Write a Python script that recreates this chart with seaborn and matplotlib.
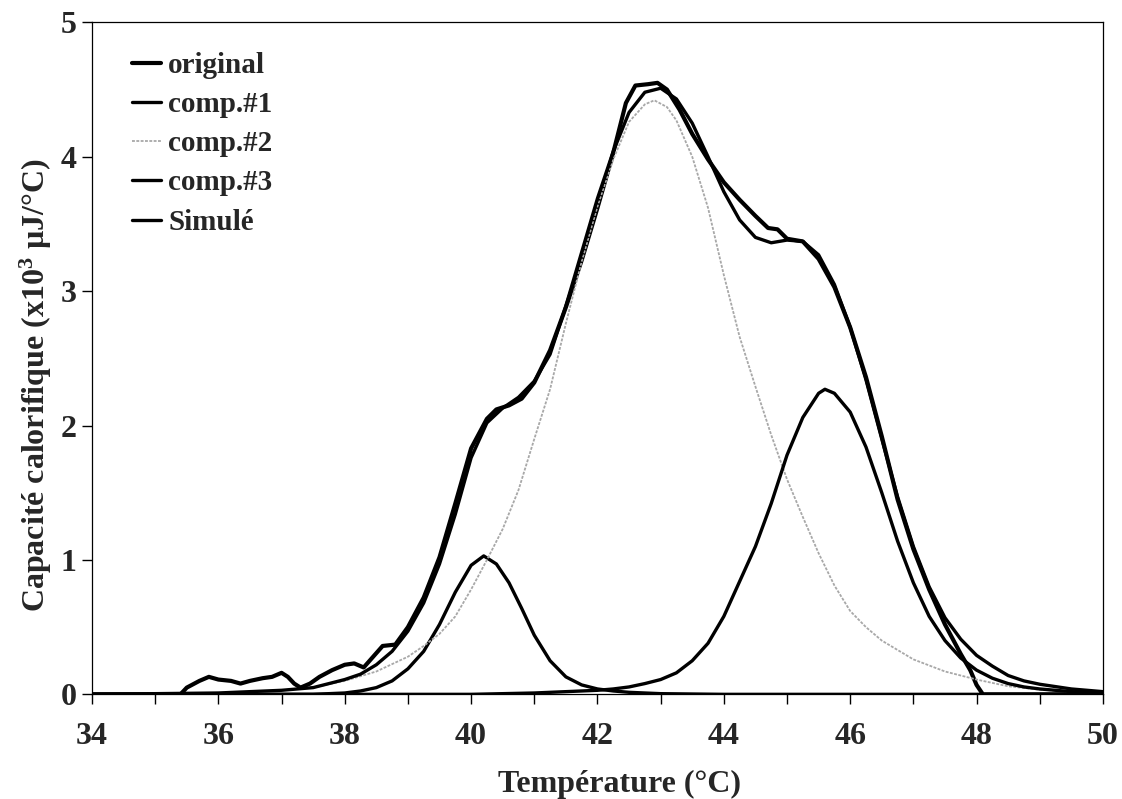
import matplotlib
matplotlib.use("Agg")
import matplotlib.pyplot as plt
import seaborn as sns
import pandas as pd

# Temperature (°C) and heat capacity (x10^3 µJ/°C) for each trace
t_original = [34.0, 35.4, 35.5, 35.7, 35.85, 36.0, 36.2, 36.35, 36.5, 36.7, 36.85, 37.0,
              37.1, 37.2, 37.3, 37.45, 37.6, 37.8, 38.0, 38.15, 38.3, 38.45, 38.6, 38.8,
              39.0, 39.25, 39.5, 39.75, 40.0, 40.25, 40.4, 40.6, 40.8, 41.0, 41.25, 41.5,
              41.75, 42.0, 42.25, 42.45, 42.6, 42.8, 42.95, 43.1, 43.3, 43.5, 43.75, 44.0,
              44.25, 44.5, 44.7, 44.85, 45.0, 45.25, 45.5, 45.75, 46.0, 46.25, 46.5, 46.75,
              47.0, 47.25, 47.5, 47.75, 47.9, 48.0, 48.1, 50.0]
cp_original = [0.0, 0.0, 0.05, 0.10, 0.13, 0.11, 0.10, 0.08, 0.10, 0.12, 0.13, 0.16,
               0.13, 0.08, 0.05, 0.08, 0.13, 0.18, 0.22, 0.23, 0.20, 0.28, 0.36, 0.37,
               0.50, 0.72, 1.02, 1.42, 1.83, 2.05, 2.12, 2.15, 2.20, 2.32, 2.56, 2.88,
               3.23, 3.62, 4.03, 4.40, 4.53, 4.54, 4.55, 4.50, 4.35, 4.17, 3.98, 3.81,
               3.68, 3.56, 3.47, 3.46, 3.39, 3.37, 3.24, 3.03, 2.73, 2.36, 1.92, 1.45,
               1.08, 0.78, 0.52, 0.30, 0.18, 0.07, 0.0, 0.0]

t_comp1 = [34.0, 37.5, 38.0, 38.25, 38.5, 38.75, 39.0, 39.25, 39.5, 39.75, 40.0, 40.2,
           40.4, 40.6, 40.8, 41.0, 41.25, 41.5, 41.75, 42.0, 42.25, 42.5, 43.0, 44.0, 50.0]
cp_comp1 = [0.0, 0.0, 0.01, 0.025, 0.05, 0.10, 0.19, 0.32, 0.52, 0.76, 0.96, 1.03,
            0.97, 0.83, 0.64, 0.44, 0.25, 0.13, 0.07, 0.04, 0.025, 0.015, 0.005, 0.0, 0.0]

t_comp2 = [34.0, 35.0, 36.0, 36.5, 37.0, 37.5, 38.0, 38.5, 39.0, 39.25, 39.5, 39.75,
           40.0, 40.25, 40.5, 40.75, 41.0, 41.25, 41.5, 41.75, 42.0, 42.25, 42.5, 42.75,
           42.9, 43.1, 43.25, 43.5, 43.75, 44.0, 44.25, 44.5, 44.75, 45.0, 45.25, 45.5,
           45.75, 46.0, 46.25, 46.5, 46.75, 47.0, 47.5, 48.0, 48.5, 49.0, 49.5, 50.0]
cp_comp2 = [0.0, 0.005, 0.01, 0.02, 0.03, 0.05, 0.10, 0.17, 0.28, 0.36, 0.45, 0.58,
            0.78, 1.00, 1.23, 1.52, 1.90, 2.27, 2.76, 3.22, 3.63, 3.98, 4.26, 4.39,
            4.42, 4.37, 4.27, 4.00, 3.62, 3.12, 2.66, 2.29, 1.93, 1.60, 1.32, 1.05,
            0.81, 0.62, 0.50, 0.40, 0.33, 0.26, 0.17, 0.11, 0.06, 0.035, 0.02, 0.01]

t_comp3 = [34.0, 40.0, 41.0, 42.0, 42.25, 42.5, 42.75, 43.0, 43.25, 43.5, 43.75, 44.0,
           44.25, 44.5, 44.75, 45.0, 45.25, 45.5, 45.6, 45.75, 46.0, 46.25, 46.5, 46.75,
           47.0, 47.25, 47.5, 47.75, 48.0, 48.25, 48.5, 48.75, 49.0, 49.5, 50.0]
cp_comp3 = [0.0, 0.0, 0.01, 0.03, 0.04, 0.055, 0.08, 0.11, 0.16, 0.25, 0.38, 0.58,
            0.84, 1.10, 1.42, 1.78, 2.06, 2.24, 2.27, 2.24, 2.10, 1.84, 1.50, 1.14,
            0.83, 0.58, 0.40, 0.27, 0.18, 0.12, 0.08, 0.055, 0.04, 0.02, 0.01]

t_sim = [34.0, 35.0, 36.0, 36.5, 37.0, 37.5, 38.0, 38.25, 38.5, 38.75, 39.0, 39.25,
         39.5, 39.75, 40.0, 40.25, 40.5, 40.75, 41.0, 41.25, 41.5, 41.75, 42.0, 42.25,
         42.5, 42.75, 43.0, 43.25, 43.5, 43.75, 44.0, 44.25, 44.5, 44.75, 45.0, 45.25,
         45.5, 45.75, 46.0, 46.25, 46.5, 46.75, 47.0, 47.25, 47.5, 47.75, 48.0, 48.25,
         48.5, 48.75, 49.0, 49.5, 50.0]
cp_sim = [0.0, 0.005, 0.01, 0.02, 0.03, 0.05, 0.11, 0.15, 0.22, 0.32, 0.47, 0.68,
          0.97, 1.34, 1.76, 2.02, 2.13, 2.21, 2.33, 2.53, 2.89, 3.29, 3.69, 4.04,
          4.33, 4.48, 4.51, 4.43, 4.25, 4.00, 3.74, 3.53, 3.40, 3.36, 3.38, 3.37,
          3.27, 3.05, 2.73, 2.34, 1.90, 1.47, 1.10, 0.80, 0.57, 0.41, 0.29, 0.21,
          0.14, 0.10, 0.075, 0.04, 0.02]

series_labels = ["original", "comp.#1", "comp.#2", "comp.#3", "Simulé"]
x_ticks = [34, 36, 38, 40, 42, 44, 46, 48, 50]
y_ticks = [0, 1, 2, 3, 4, 5]

sns.set_style("ticks")
plt.rcParams["font.family"] = ["Liberation Serif", "DejaVu Serif"]
plt.rcParams["font.weight"] = "bold"
plt.rcParams["mathtext.fontset"] = "custom"
plt.rcParams["mathtext.rm"] = "Liberation Serif:bold"
plt.rcParams["mathtext.bf"] = "Liberation Serif:bold"
plt.rcParams["mathtext.default"] = "bf"

fig, ax = plt.subplots(figsize=(11.22, 7.99), dpi=100)
fig.subplots_adjust(left=0.082, right=0.983, bottom=0.131, top=0.972)

traces = [
    (t_original, cp_original, dict(color="black", lw=3.0, ls="-")),
    (t_comp1, cp_comp1, dict(color="black", lw=2.4, ls="-")),
    (t_comp2, cp_comp2, dict(color="#a8a8a8", lw=1.3, ls=(0, (1.6, 0.8)))),
    (t_comp3, cp_comp3, dict(color="black", lw=2.4, ls="-")),
    (t_sim, cp_sim, dict(color="black", lw=2.4, ls="-")),
]
for (tx, cy, style), name in zip(traces, series_labels):
    df = pd.DataFrame({"T": tx, "Cp": cy})
    sns.lineplot(data=df, x="T", y="Cp", ax=ax, label=name, estimator=None,
                 sort=False, color=style["color"], linewidth=style["lw"],
                 linestyle=style["ls"])

ax.set_xlim(34, 50)
ax.set_ylim(0, 5)
ax.set_xticks(x_ticks)
ax.set_xticks(range(35, 50, 2), minor=True)
ax.set_yticks(y_ticks)
ax.tick_params(axis="both", which="both", direction="out", length=7, width=1,
               color="black")
ax.tick_params(axis="x", which="major", pad=13, labelsize=23)
ax.tick_params(axis="y", which="major", pad=4, labelsize=23)
for lab in ax.get_xticklabels() + ax.get_yticklabels():
    lab.set_fontweight("bold")
for sp in ax.spines.values():
    sp.set_visible(True)
    sp.set_linewidth(0.9)
    sp.set_color("black")

ax.set_xlabel("Température (°C)", fontsize=23, fontweight="bold")
ax.set_ylabel("Capacité calorifique (x10$^{3}$ µJ/°C)", fontsize=23,
              fontweight="bold")
ax.xaxis.set_label_coords(0.522, -0.112)
ax.yaxis.set_label_coords(-0.038, 0.46)

leg = ax.legend(loc="upper left", bbox_to_anchor=(0.025, 0.978), frameon=False,
                borderpad=0, handlelength=1.0, handletextpad=0.25,
                labelspacing=0.42, prop={"family": "Liberation Serif",
                                         "weight": "bold", "size": 21})

fig.savefig("out.png", dpi=100)
